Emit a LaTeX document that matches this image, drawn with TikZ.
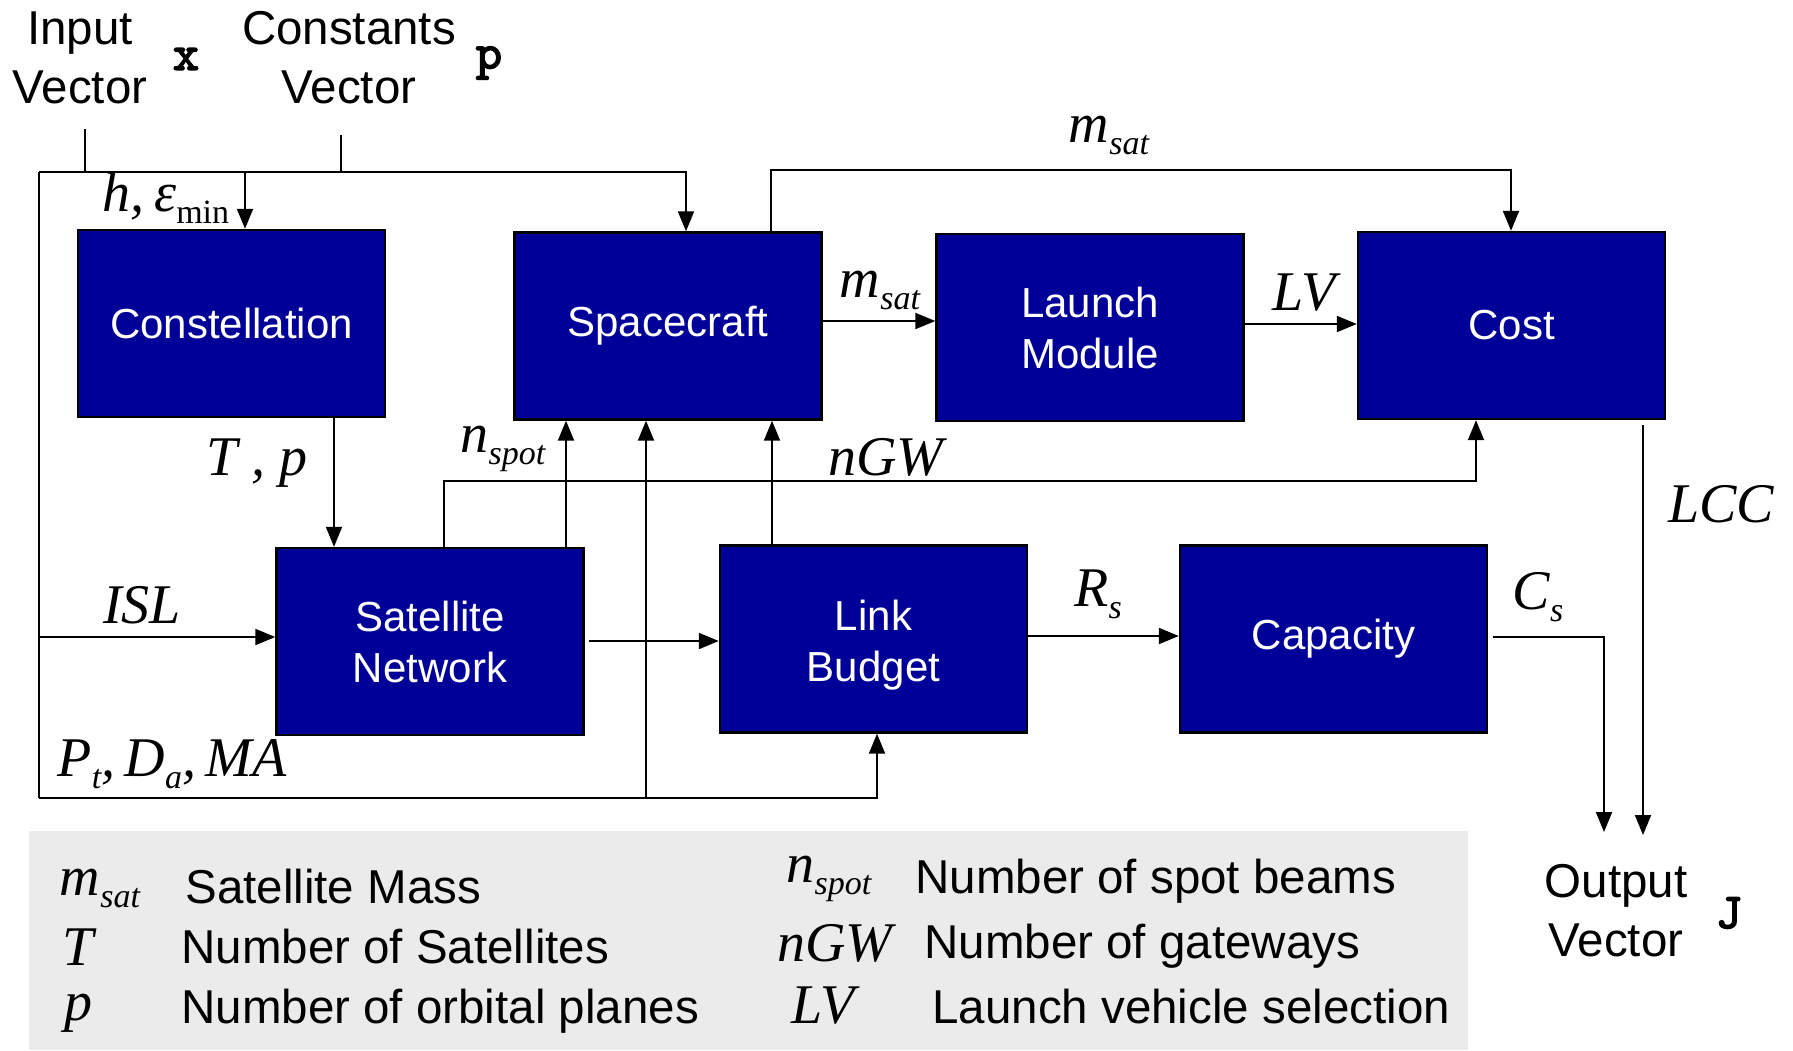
\documentclass[tikz,border=0pt]{standalone}
\usepackage{fontspec}
\setmainfont{Liberation Sans}
\newfontfamily\tms{Liberation Serif}
\newfontfamily\crr{lmmono10-regular}[Extension=.otf, FakeBold=3]
\usetikzlibrary{arrows.meta}
\definecolor{boxblue}{RGB}{0,0,153}
\definecolor{leggray}{RGB}{235,235,235}
\newcommand\vsub[2]{#1\raisebox{-6pt}{\fontsize{17}{17}\selectfont #2}}
\begin{document}
\begin{tikzpicture}[x=0.5pt,y=-0.5pt,
 blk/.style={draw=black, line width=1.2pt, fill=boxblue, text=white, minimum width=153.5pt, minimum height=93.5pt, inner sep=0pt, align=center, font=\fontsize{21}{25.5}\selectfont},
 conn/.style={line width=1pt},
 arr/.style={conn, -{Triangle[length=10pt,width=8pt]}},
 lbl/.style={font=\tms\itshape\fontsize{28}{30}\selectfont, inner sep=0pt},
 txt/.style={font=\fontsize{23.75}{29.5}\selectfont, inner sep=0pt, align=center},
 vec/.style={font=\crr\fontsize{25}{25}\selectfont, inner sep=0pt},
]
\path[use as bounding box] (0,0) rectangle (1793,1050);

% legend background
\fill[leggray] (29,831) rectangle (1468,1050);

% blocks
\node[blk] (const) at (231.5,323.5) {Constellation};
\node[blk] (sc) at (668,326) {Spacecraft};
\node[blk] (lm) at (1090,327.5) {Launch\\Module};
\node[blk] (cost) at (1511.5,325.5) {Cost};
\node[blk] (sn) at (430,641.5) {Satellite\\Network};
\node[blk] (lb) at (873.5,639) {\raisebox{-3pt}[\height][\depth]{\parbox{100pt}{\centering Link\\Budget}}};
\node[blk] (cap) at (1333.5,639) {Capacity};

% top texts
\node[txt] (inv) at (80,58) {Input\\Vector};
\node[vec] (xv) at (186,59) {x};
\node[txt] (cov) at (349,58) {Constants\\Vector};
\node[vec] (pv) at (489,63) {p};
\node[txt] (outv) at (1616,911) {Output\\Vector};
\node[vec] (jv) at (1729,913) {J};

% coordinates
\coordinate (inTick) at (85,129);
\coordinate (cTick) at (341,135);
\coordinate (busTL) at (39,172);
\coordinate (busBL) at (39,798);
\coordinate (cIn) at (245,172);
\coordinate (scIn) at (686,0);
\coordinate (islL) at (39,637);
\coordinate (lbIn) at (877,0);
\coordinate (scB) at (646,798);
\coordinate (tpX) at (334,0);
\coordinate (nsX) at (444,481);
\coordinate (costIn) at (1476,0);
\coordinate (snUp) at (566,0);
\coordinate (lbUp) at (772,0);
\coordinate (snOut) at (589,641);
\coordinate (lbOut) at (1027,636);
\coordinate (capOut) at (1493,637);
\coordinate (capDn) at (1604,832);
\coordinate (lccTop) at (1643,425);
\coordinate (lccEnd) at (1643,835);
\coordinate (msX) at (771,170);
\coordinate (costTop) at (1511,0);
\coordinate (scOut) at (821,321);
\coordinate (lmOut) at (1243,324);

% connectors
\draw[conn] (inTick) -- (inTick |- busTL);
\draw[conn] (cTick) -- (cTick |- busTL);
\draw[conn] (busBL) -- (busTL);
\draw[arr] (busTL) -| (scIn |- sc.north);
\draw[arr] (cIn) -- (cIn |- const.north);
\draw[arr] (islL) -- (islL -| sn.west);
\draw[arr] (busBL) -| (lbIn |- lb.south);
\draw[arr] (scB) -- (scB |- sc.south);
\draw[arr] (tpX |- const.south) -- (tpX |- sn.north);
\draw[arr] (nsX |- sn.north) -- (nsX) -| (costIn |- cost.south);
\draw[arr] (snUp |- sn.north) -- (snUp |- sc.south);
\draw[arr] (lbUp |- lb.north) -- (lbUp |- sc.south);
\draw[arr] (snOut) -- (snOut -| lb.west);
\draw[arr] (lbOut) -- (lbOut -| cap.west);
\draw[arr] (capOut) -| (capDn);
\draw[arr] (lccTop) -- (lccEnd);
\draw[arr] (msX |- sc.north) -- (msX) -| (costTop |- cost.north);
\draw[arr] (scOut) -- (scOut -| lm.west);
\draw[arr] (lmOut) -- (lmOut -| cost.west);

% connector labels
\node[lbl] (lh) at (166,198) {h,\,ε\raisebox{-6pt}{\upshape\fontsize{17}{17}\selectfont min}};
\node[lbl] (ltp) at (257,463) {T , p};
\node[lbl] (lns) at (503,449) {\vsub{n}{spot}};
\node[lbl] (lngw) at (886,457) {nGW};
\node[lbl] (lms1) at (1109,135) {\vsub{m}{sat}};
\node[lbl] (lms2) at (880,290) {\vsub{m}{sat}};
\node[lbl] (llv) at (1304,293) {LV};
\node[lbl] (lisl) at (142,605) {ISL};
\node[lbl] (lpt) at (172,764) {\vsub{P}{t},\,\vsub{D}{a},\,MA};
\node[lbl] (lrs) at (1098,594) {\vsub{R}{s}};
\node[lbl] (lcs) at (1538,597) {\vsub{C}{s}};
\node[lbl] (llcc) at (1721,504) {LCC};

% legend
\node[lbl] (g1) at (100,888) {\vsub{m}{sat}};
\node[txt, anchor=west] (g1t) at (185,887) {Satellite Mass};
\node[lbl] (g2) at (78,947) {T};
\node[txt, anchor=west] (g2t) at (181,947) {Number of Satellites};
\node[lbl] (g3) at (78,1013) {p};
\node[txt, anchor=west] (g3t) at (181,1011) {Number of orbital planes};
\node[lbl] (g4) at (829,879) {\vsub{n}{spot}};
\node[txt, anchor=west] (g4t) at (915,881) {Number of spot beams};
\node[lbl] (g5) at (835,943) {nGW};
\node[txt, anchor=west] (g5t) at (924,946) {Number of gateways};
\node[lbl] (g6) at (823,1006) {LV};
\node[txt, anchor=west] (g6t) at (932,1007) {Launch vehicle selection};
\end{tikzpicture}
\end{document}
